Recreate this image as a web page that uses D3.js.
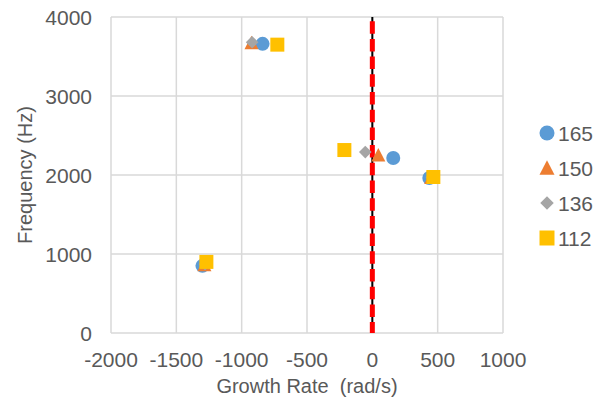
<!DOCTYPE html>
<html><head><meta charset="utf-8">
<script src="https://cdn.jsdelivr.net/npm/d3@7"></script>
<style>body{margin:0;background:#fff}svg{display:block;font-family:Arial,"Liberation Sans",sans-serif}</style>
</head><body>
<svg id="c" width="608" height="404"></svg>
<script>
const seriesNames = ["165","150","136","112"];
const s165x = [-840, 160, 436, -1300];
const s165y = [3660, 2215, 1962, 850];
const s150x = [-925, 46, 450, -1285];
const s150y = [3670, 2250, 1965, 860];
const s136x = [-920, -54, 455, -1280];
const s136y = [3680, 2290, 1970, 870];
const s112x = [-727, -214, 467, -1270];
const s112y = [3650, 2316, 1975, 900];
const xTicks = [-2000,-1500,-1000,-500,0,500,1000];
const yTicks = [0,1000,2000,3000,4000];
const colors = ["#5b9bd5","#ed7d31","#a5a5a5","#ffc000"];

function markerPath(i, s){
  const p = d3.path();
  if(i===0){ p.arc(0,0,s/2,0,2*Math.PI); }
  else if(i===1){ const h=s*0.9; p.moveTo(0,-h/2-1); p.lineTo(s/2,h/2); p.lineTo(-s/2,h/2); p.closePath(); }
  else if(i===2){ const r=s*0.45; p.moveTo(0,-r); p.lineTo(r,0); p.lineTo(0,r); p.lineTo(-r,0); p.closePath(); }
  else { p.rect(-s/2,-s/2,s,s); }
  return p.toString();
}

const svg = d3.select("#c");
const x = d3.scaleLinear().domain([-2000,1000]).range([111,503]);
const y = d3.scaleLinear().domain([0,4000]).range([333,17]);
const grid = "#d9d9d9", txt = "#595959";

svg.append("g").selectAll("line").data(xTicks).join("line")
  .attr("x1",d=>x(d)).attr("x2",d=>x(d)).attr("y1",y(0)).attr("y2",y(4000))
  .attr("stroke",grid).attr("stroke-width",1.5);
svg.append("g").selectAll("line").data(yTicks).join("line")
  .attr("x1",x(-2000)).attr("x2",x(1000)).attr("y1",d=>y(d)).attr("y2",d=>y(d))
  .attr("stroke",grid).attr("stroke-width",1.5);

svg.append("g").selectAll("text").data(xTicks).join("text")
  .attr("x",d=>x(d)).attr("y",367).attr("text-anchor","middle")
  .attr("font-size",21).attr("fill",txt).text(d=>d);
svg.append("g").selectAll("text").data(yTicks).join("text")
  .attr("x",92).attr("y",d=>y(d)+7.5).attr("text-anchor","end")
  .attr("font-size",21).attr("fill",txt).text(d=>d);

svg.append("text").attr("x",307).attr("y",393).attr("text-anchor","middle")
  .attr("font-size",20).attr("fill",txt).attr("xml:space","preserve").style("white-space","pre").text("Growth Rate  (rad/s)");
svg.append("text").attr("transform","translate(32,175) rotate(-90)").attr("text-anchor","middle")
  .attr("font-size",20).attr("fill",txt).text("Frequency (Hz)");

// zero line
svg.append("line").attr("x1",x(0)).attr("x2",x(0)).attr("y1",y(4000)).attr("y2",y(0))
  .attr("stroke","#000").attr("stroke-width",2);
svg.append("line").attr("x1",x(0)).attr("x2",x(0)).attr("y1",y(4000)).attr("y2",y(0))
  .attr("stroke","#ff0000").attr("stroke-width",5).attr("stroke-dasharray","12.5,5.2").attr("stroke-dashoffset",13.5);

const allX = [s165x,s150x,s136x,s112x], allY = [s165y,s150y,s136y,s112y];
seriesNames.forEach((n,i)=>{
  const pts = allX[i].map((v,j)=>[v,allY[i][j]]);
  svg.append("g").selectAll("path").data(pts).join("path")
    .attr("transform",d=>`translate(${x(d[0])},${y(d[1])})`)
    .attr("d",markerPath(i,14)).attr("fill",colors[i]);
  const ly = 133 + i*35;
  svg.append("path").attr("transform",`translate(547,${ly})`)
    .attr("d",markerPath(i,15)).attr("fill",colors[i]);
  svg.append("text").attr("x",558).attr("y",ly+7.5).attr("font-size",21).attr("fill",txt).text(n);
});
</script>
</body></html>
